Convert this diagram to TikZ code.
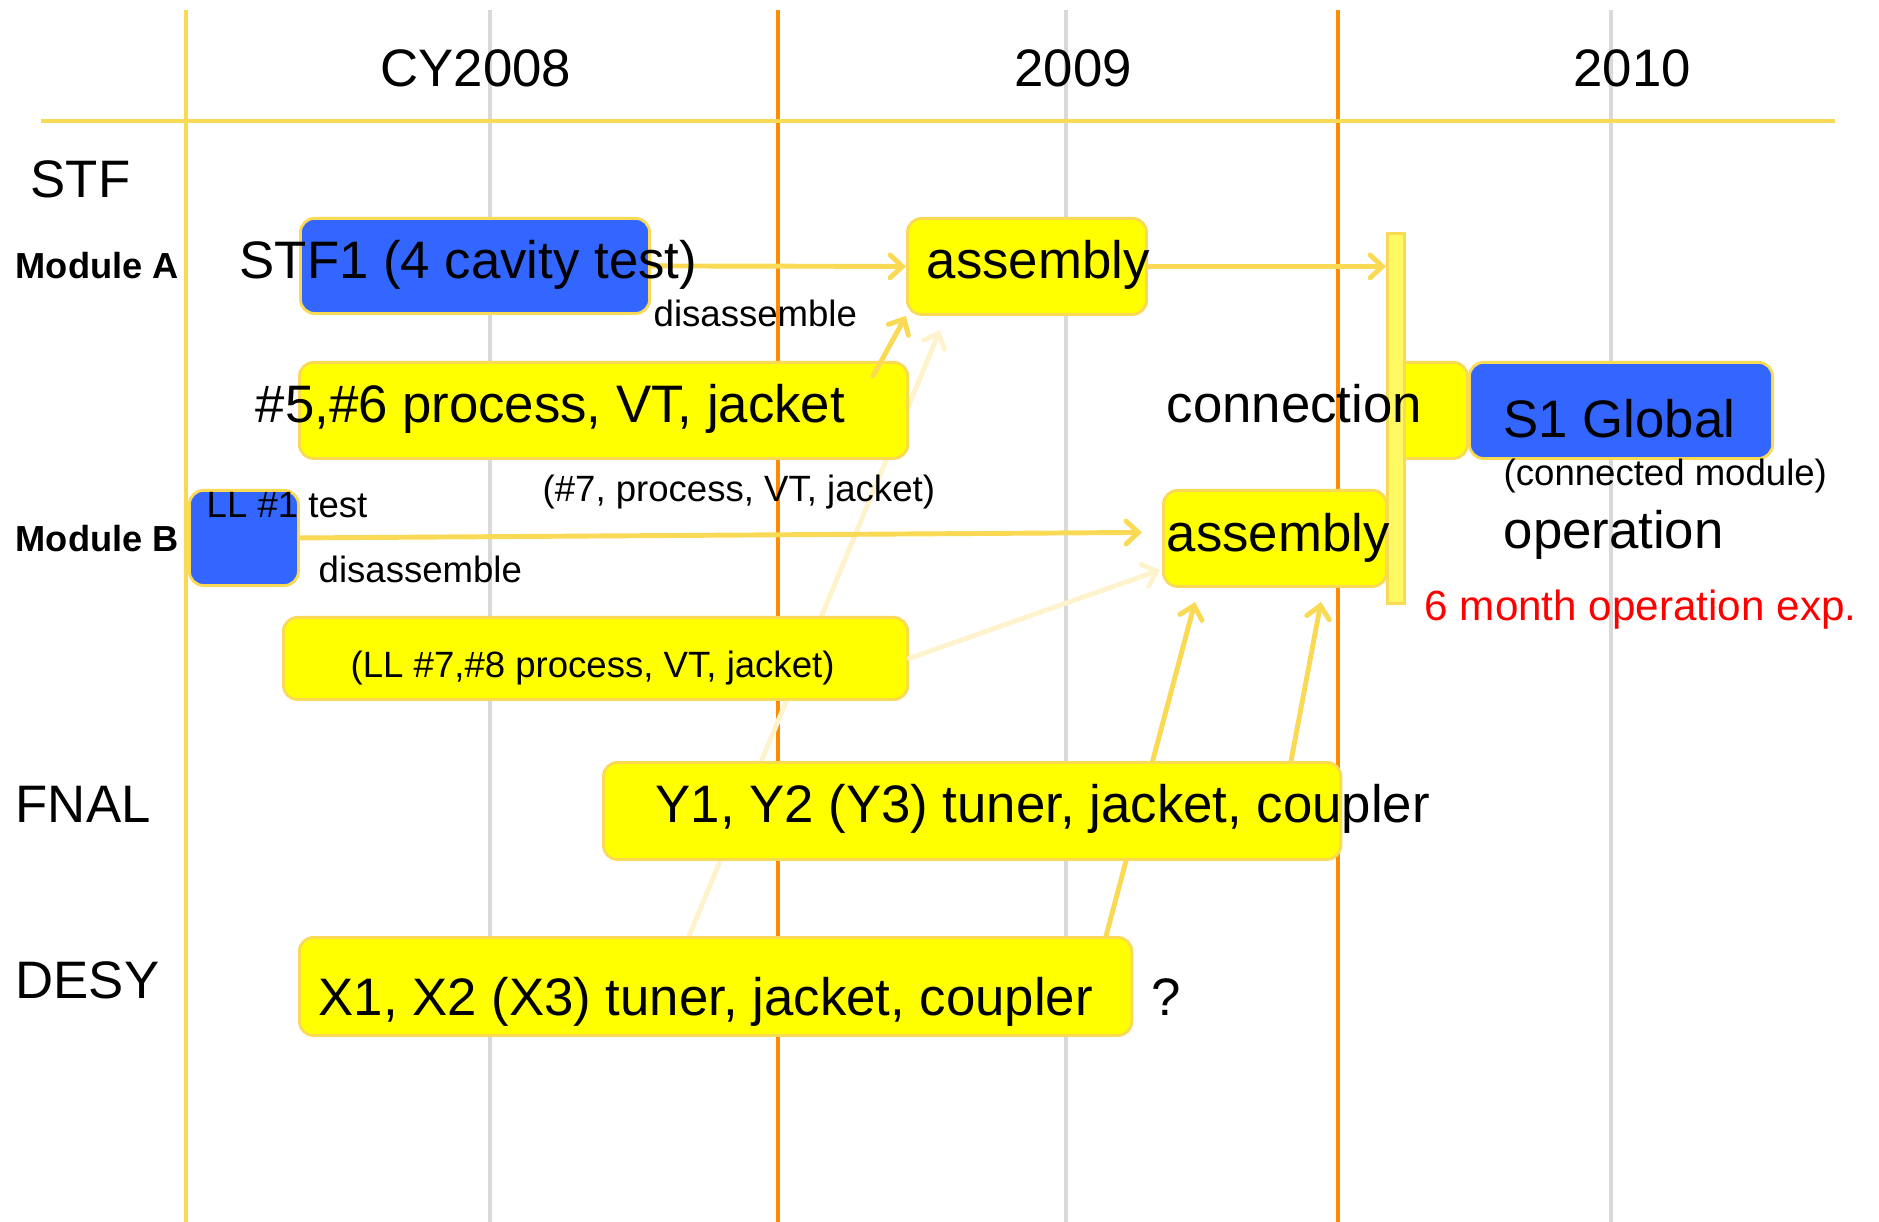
\documentclass[tikz,border=0pt]{standalone}
\usepackage{fontspec}
\setmainfont{Liberation Sans}
\usetikzlibrary{arrows.meta}
\definecolor{gold}{RGB}{250,217,85}
\definecolor{grayl}{RGB}{217,217,217}
\definecolor{orng}{RGB}{255,140,0}
\definecolor{blu}{RGB}{51,102,255}
\definecolor{yel}{RGB}{255,255,0}
\definecolor{faint}{RGB}{255,243,205}
\definecolor{barfill}{RGB}{255,250,100}
\begin{document}
\begin{tikzpicture}[x=0.01cm,y=-0.01cm,
 box/.style={draw=gold, line width=0.8pt, rounded corners=4pt, anchor=north west, inner sep=0pt},
 ybox/.style={box, fill=yel},
 bbox/.style={box, fill=blu},
 big/.style={font=\fontsize{15}{18}\selectfont, anchor=base west, inner sep=0pt},
 small/.style={font=\fontsize{10.4}{12}\selectfont, anchor=base west, inner sep=0pt},
 lbl/.style={font=\fontsize{10.3}{12}\selectfont\bfseries, anchor=base west, inner sep=0pt},
 redtxt/.style={font=\fontsize{12}{14}\selectfont, anchor=base west, inner sep=0pt, text=red},
 arr/.style={draw=gold, line width=1.4pt, line cap=round, -{Straight Barb[length=3.5pt,width=6.5pt,line cap=round]}},
 farr/.style={arr, draw=faint},
 vline/.style={line width=1.15pt},
]
\useasboundingbox (0,0) rectangle (1879,1222);
% grid lines
\draw[gold, vline] (186,10) -- (186,1222);
\draw[grayl, vline] (490,10) -- (490,1222);
\draw[grayl, vline] (1066,10) -- (1066,1222);
\draw[grayl, vline] (1611,10) -- (1611,1222);
\draw[orng, vline] (778,10) -- (778,1222);
\draw[orng, vline] (1338,10) -- (1338,1222);
\draw[gold, line width=1.4pt] (41,121) -- (1835,121);

% coordinates for free arrow ends
\coordinate (f1s) at (689,936);
\coordinate (f1e) at (940,330);
\coordinate (f2e) at (1160,570);
\coordinate (a7s) at (1106,936);
\coordinate (a7e) at (1195,602);
\coordinate (a8s) at (1291,761);
\coordinate (a8e) at (1321,602);
\coordinate (a3s) at (873,376);

% background arrows (behind boxes)
\draw[farr] (f1s) -- (f1e);
\draw[arr] (a7s) -- (a7e);

% boxes
\node[bbox, minimum width=3.49cm, minimum height=0.95cm] (stf1) at (299,217) {};
\node[ybox, minimum width=2.39cm, minimum height=0.96cm] (asmA) at (906,217) {};
\node[ybox, minimum width=6.08cm, minimum height=0.96cm] (p56) at (298,361) {};
\node[bbox, minimum width=1.09cm, minimum height=0.95cm] (ll1) at (188,489) {};
\node[ybox, minimum width=2.23cm, minimum height=0.96cm] (asmB) at (1162,489) {};
\node[ybox, minimum width=6.24cm, minimum height=0.82cm] (ll78) at (282,616) {};
\node[ybox, minimum width=7.37cm, minimum height=0.97cm] (ybx) at (602,761) {};
\node[ybox, minimum width=8.32cm, minimum height=0.98cm] (xbx) at (298,936) {};
\node[ybox, minimum width=0.78cm, minimum height=0.96cm] (conn) at (1388,361) {};
\node[bbox, minimum width=3.03cm, minimum height=0.96cm] (s1) at (1468,361) {};
\node[draw=gold, fill=barfill, line width=0.8pt, anchor=north west, inner sep=0pt,
      minimum width=0.17cm, minimum height=3.70cm] (bar) at (1386,232) {};

% arrows
\draw[farr] (ll78.east) -- (f2e);
\draw[arr] (stf1.east) -- (asmA.west);
\draw[arr] (asmA.east) -- (asmA.east -| bar.west);
\draw[arr] (a3s) -- (asmA.south west);
\draw[arr] (ll1.east) -- ([xshift=-0.2cm,yshift=0.06cm]asmB.west);
\draw[arr] (a8s) -- (a8e);

% texts
\node[big, anchor=base] (cy) at (476,87) {CY2008};
\node[big, anchor=base] (y09) at (1073,87) {2009};
\node[big, anchor=base] (y10) at (1632,87) {2010};
\node[big] (stf) at (30,198) {STF};
\node[lbl] (ma) at (15,279) {Module A};
\node[lbl] (mb) at (15,552) {Module B};
\node[big] (fnal) at (15,822) {FNAL};
\node[big] (desy) at (15,998) {DESY};
\node[big] (t1) at (239,279) {STF1 (4 cavity test)};
\node[small] (t2) at (653,327) {disassemble};
\node[big] (t3) at (926,279) {assembly};
\node[big] (t4) at (255,423) {\#5,\#6 process, VT, jacket};
\node[small] (t5) at (542,502) {(\#7, process, VT, jacket)};
\node[small] (t6) at (206,518) {LL \#1 test};
\node[small] (t7) at (318,583) {disassemble};
\node[small] (t8) at (350,678) {(LL \#7,\#8 process, VT, jacket)};
\node[big] (t9) at (655,822) {Y1, Y2 (Y3) tuner, jacket, coupler};
\node[big] (t10) at (318,1015) {X1, X2 (X3) tuner, jacket, coupler};
\node[big] (t11) at (1151,1015) {?};
\node[big] (t12) at (1166,423) {connection};
\node[big] (t13) at (1503,438) {S1 Global};
\node[small] (t14) at (1503,486) {(connected module)};
\node[big] (t15) at (1503,549) {operation};
\node[redtxt] (t16) at (1424,620) {6 month operation exp.};
\node[big] (t17) at (1166,552) {assembly};
\end{tikzpicture}
\end{document}
